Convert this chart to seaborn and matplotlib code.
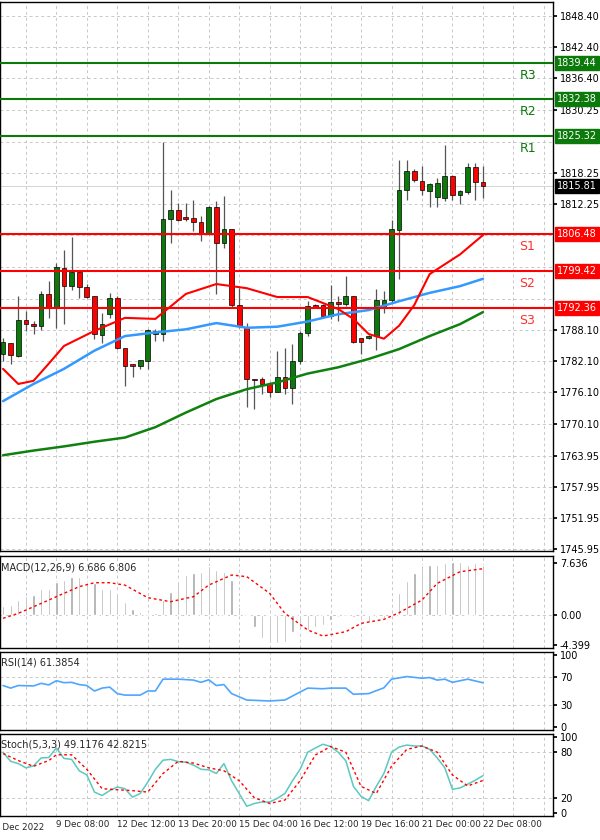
import numpy as np
import pandas as pd
import matplotlib
matplotlib.use("Agg")
import matplotlib.pyplot as plt
import seaborn as sns

# ---- data ----
opens = [1783.55, 1785.53, 1783.11, 1789.93, 1789.30, 1788.85, 1794.91, 1792.36, 1800.02, 1796.51,
         1799.25, 1796.32, 1794.59, 1787.13, 1791.08, 1794.15, 1784.57, 1781.51, 1781.19, 1782.15,
         1787.26, 1787.26, 1809.47, 1811.19, 1809.72, 1809.60, 1808.83, 1806.72, 1811.70, 1804.81,
         1807.55, 1792.87, 1788.53, 1778.64, 1778.64, 1777.68, 1776.08, 1779.08, 1776.91, 1782.15,
         1787.57, 1792.87, 1792.87, 1790.76, 1793.51, 1793.00, 1794.59, 1786.49, 1786.49, 1786.94,
         1792.36, 1793.76, 1807.36, 1815.02, 1818.53, 1816.74, 1814.70, 1813.55, 1813.42, 1817.57,
         1814.06, 1814.57, 1819.30, 1816.60]
highs = [1786.62, 1785.53, 1794.59, 1791.72, 1789.81, 1795.55, 1797.47, 1800.98, 1803.53, 1805.90,
         1799.25, 1796.83, 1794.59, 1791.40, 1795.23, 1794.59, 1784.70, 1781.51, 1782.28, 1788.21,
         1788.21, 1824.27, 1815.02, 1812.47, 1812.47, 1813.10, 1809.91, 1811.83, 1812.79, 1813.74,
         1807.55, 1796.19, 1789.49, 1778.64, 1778.96, 1778.00, 1784.06, 1784.70, 1785.34, 1787.89,
         1793.64, 1793.00, 1793.00, 1796.70, 1794.59, 1798.42, 1794.59, 1786.62, 1787.13, 1795.87,
         1795.55, 1809.28, 1820.77, 1820.77, 1819.04, 1819.68, 1816.30, 1817.25, 1823.64, 1817.89,
         1815.02, 1820.13, 1820.13, 1819.49]
lows = [1782.15, 1781.51, 1782.79, 1787.89, 1787.26, 1788.02, 1790.45, 1788.53, 1789.17, 1795.68,
        1794.27, 1794.27, 1786.30, 1785.66, 1790.45, 1784.38, 1777.36, 1778.96, 1780.55, 1780.55,
        1785.98, 1785.98, 1804.81, 1809.08, 1808.96, 1807.04, 1805.13, 1806.40, 1794.91, 1803.85,
        1792.36, 1788.53, 1773.21, 1772.89, 1775.76, 1775.12, 1776.08, 1775.76, 1773.85, 1781.50,
        1786.94, 1792.36, 1790.45, 1790.13, 1789.81, 1792.68, 1785.66, 1783.42, 1786.30, 1784.19,
        1791.40, 1793.51, 1797.79, 1813.10, 1816.60, 1814.06, 1811.64, 1811.64, 1812.91, 1813.10,
        1812.27, 1814.19, 1813.10, 1813.42]
closes = [1785.85, 1783.30, 1789.93, 1789.17, 1788.85, 1794.91, 1792.36, 1800.15, 1796.51, 1799.25,
          1796.32, 1794.47, 1787.26, 1789.30, 1794.15, 1784.57, 1781.19, 1781.19, 1782.28, 1788.02,
          1787.89, 1809.47, 1811.19, 1809.28, 1809.47, 1808.76, 1806.72, 1811.70, 1804.81, 1807.55,
          1792.87, 1788.85, 1778.64, 1778.45, 1777.68, 1776.08, 1779.08, 1776.91, 1782.15, 1787.57,
          1792.68, 1792.49, 1790.76, 1793.51, 1793.00, 1794.59, 1785.85, 1785.85, 1786.94, 1793.76,
          1793.76, 1807.55, 1815.02, 1818.53, 1816.93, 1815.02, 1816.10, 1816.30, 1817.57, 1814.06,
          1814.70, 1819.30, 1816.60, 1815.66]

# moving averages, sampled at these bar indices
red_idx = [0, 2, 4, 6, 8, 12, 16, 20, 24, 28, 32, 36, 40, 44, 46, 48, 50, 52, 54, 56, 58, 60, 63]
ma_red = [1780.6, 1777.7, 1778.3, 1781.6, 1785.0, 1787.9, 1790.4, 1790.2, 1795.0, 1796.9, 1796.1, 1794.4,
          1794.4, 1792.1, 1790.2, 1787.3, 1786.4, 1788.9, 1792.9, 1798.8, 1800.7, 1802.6, 1806.3]
ma_idx = [0, 4, 8, 12, 16, 20, 24, 28, 32, 36, 40, 44, 48, 52, 56, 60, 63]
ma_blue = [1774.4, 1777.7, 1780.6, 1784.1, 1786.9, 1787.6, 1788.2, 1789.4, 1788.5, 1788.7, 1789.7, 1791.1,
           1791.9, 1793.6, 1795.2, 1796.5, 1797.9]
ma_green = [1764.0, 1764.9, 1765.7, 1766.6, 1767.4, 1769.4, 1772.2, 1774.8, 1776.7, 1778.0, 1779.7, 1780.9,
            1782.5, 1784.4, 1786.9, 1789.2, 1791.5]

levels = {"R3": 1839.44, "R2": 1832.38, "R1": 1825.32, "S1": 1806.48, "S2": 1799.42, "S3": 1792.36}
last_price = 1815.81
price_ticks = [1848.40, 1842.40, 1836.40, 1830.25, 1818.25, 1812.25,
               1788.10, 1782.10, 1776.10, 1770.10, 1763.95, 1757.95, 1751.95, 1745.95]
hidden_ticks = [1824.25, 1806.25, 1800.25, 1794.10]  # gridlines under the level boxes

macd_hist = [1.32, 1.47, 2.2, 2.8, 2.94, 3.77, 3.9, 4.8, 5.15, 5.54, 5.54, 4.9, 4.66, 3.9, 3.9, 3.19,
             1.96, 0.83, 0.5, 0.25, 0.35, 2.2, 3.43, 5.0, 5.88, 6.23, 6.37, 7.2, 6.6, 6.37, 5.15, 1.23,
             -0.15, -1.72, -3.43, -4.17, -4.17, -3.92, -2.45, -2.2, -2.2, -1.72, -1.47, -0.74, -0.25, 0.0,
             -0.25, -0.74, -0.98, -0.25, -0.49, 0.0, 3.19, 5.05, 6.23, 7.35, 7.35, 7.35, 7.6, 7.84, 7.84,
             7.35, 7.6, 7.35]
sig_idx = [0, 2, 5, 7, 10, 12, 14, 16, 19, 22, 25, 27, 30, 32, 35, 37, 40, 42, 45, 47, 50, 52, 55, 57, 60, 63]
sig_val = [-0.49, 0.25, 1.7, 2.7, 4.17, 4.75, 4.75, 4.4, 2.55, 1.96, 2.7, 4.4, 5.88, 5.64, 3.19, 0.25,
           -2.2, -3.09, -2.45, -1.23, -0.64, 0.34, 2.2, 4.66, 6.37, 6.81]

rsi_idx = [0, 1, 2, 4, 5, 6, 7, 8, 9, 10, 11, 12, 13, 14, 15, 16, 18, 19, 20, 21, 23, 25, 26, 27, 28, 29,
           30, 32, 35, 37, 39, 40, 42, 43, 45, 46, 48, 50, 51, 53, 55, 56, 57, 58, 59, 60, 61, 63]
rsi_val = [57.6, 54, 57.6, 57, 60.6, 58.4, 64.2, 61.5, 62, 58.9, 57.6, 50, 54, 55.4, 46.4, 44.3, 44.3, 50,
           50, 66.4, 66.4, 65.1, 62, 65.5, 57.6, 58.9, 46.4, 37.5, 36.2, 37.5, 48.6, 54, 53.1, 54, 54,
           45.5, 46.4, 54.4, 66.4, 70, 67.7, 68.6, 65.1, 66.4, 62, 64.2, 66.4, 61.4]

stoch_k = [80, 68, 65, 59.4, 62, 72.5, 73, 85.6, 71.8, 70.6, 55.6, 50, 27.5, 23, 29.4, 34.2, 32, 20.8,
           25.6, 40.6, 57.5, 69.5, 70.6, 67.6, 66.9, 63, 57.5, 56.8, 52, 65, 42.5, 25.6, 8.8, 12.5, 14.4,
           14.4, 19.2, 25.6, 42.5, 57.5, 80, 85.6, 90.5, 87.5, 80, 68.7, 35, 21.9, 16.2, 35, 52, 80, 86.8,
           89.4, 88.2, 88.2, 83.7, 72.5, 59.4, 31.2, 33, 37.9, 43.1, 49.1]
stoch_d_idx = [0, 2, 4, 6, 7, 9, 11, 13, 15, 17, 19, 21, 23, 25, 27, 29, 31, 33, 35, 37, 39, 41, 43, 45,
               47, 49, 51, 53, 55, 57, 59, 61, 63]
stoch_d = [78.3, 69, 61.5, 69, 76.6, 76.6, 57.5, 32, 30.6, 29.4, 27.5, 52, 68, 65.7, 59.4, 55.6, 42.5,
           20, 12.5, 17, 42.5, 76.3, 87.5, 80, 35, 25.6, 61.5, 83.7, 88.2, 80, 50, 35.6, 42.8]

date_idx = [7, 15, 23, 31, 39, 47, 55, 63]
date_labels = ["9 Dec 08:00", "12 Dec 12:00", "13 Dec 20:00", "15 Dec 04:00", "16 Dec 12:00",
               "19 Dec 16:00", "21 Dec 00:00", "22 Dec 08:00"]

# ---- style ----
sns.set_theme(style="white")
plt.rcParams['font.family'] = 'DejaVu Sans'
GREEN = '#0b7a0b'
RED = '#ff0000'
GRID = dict(color='#c8c8c8', lw=0.7, ls=(0, (3, 3)))
FS = 7
XMIN, XMAX = -0.4, 72.2

fig = plt.figure(figsize=(6, 8.4), dpi=100)
W = 553 / 600
ax = fig.add_axes([0, 1 - 551 / 840, W, 549 / 840])
ax_macd = fig.add_axes([0, 1 - 648 / 840, W, 92 / 840])
ax_rsi = fig.add_axes([0, 1 - 730 / 840, W, 78 / 840])
ax_st = fig.add_axes([0, 1 - 816 / 840, W, 82 / 840])

for a in (ax, ax_macd, ax_rsi, ax_st):
    a.set_xlim(XMIN, XMAX)
    a.yaxis.tick_right()
    a.tick_params(axis='y', labelsize=FS, length=3, pad=2, colors='black', direction='out', right=True)
    a.tick_params(axis='x', length=0, labelbottom=False)
    for i in range(3, 72, 4):
        a.axvline(i, zorder=0, **GRID)
    for s in a.spines.values():
        s.set_color('black')
        s.set_linewidth(1.0)

# ---- main price panel ----
ax.set_ylim(1745.6, 1851.1)
ax.set_yticks(price_ticks)
ax.set_yticklabels([f"{t:.2f}" for t in price_ticks])
for t in price_ticks + hidden_ticks:
    ax.axhline(t, zorder=0, **GRID)

x = np.arange(len(opens))
o, h, l, c = map(np.array, (opens, highs, lows, closes))
up = c >= o
ax.vlines(x, l, h, color='#555555', lw=0.9, zorder=2)
body_lo = np.minimum(o, c)
body_h = np.maximum(np.abs(c - o), 0.25)
ax.bar(x, body_h, bottom=body_lo, width=0.62, color=np.where(up, GREEN, RED),
       edgecolor='black', lw=0.5, zorder=3)

ma = pd.DataFrame({'i': ma_idx, 'blue': ma_blue, 'green': ma_green})
red_ma = pd.DataFrame({'i': red_idx, 'red': ma_red})
sns.lineplot(data=ma, x='i', y='green', ax=ax, color='#108010', lw=1.8, zorder=4)
sns.lineplot(data=ma, x='i', y='blue', ax=ax, color='#3399ff', lw=1.8, zorder=4)
sns.lineplot(data=red_ma, x='i', y='red', ax=ax, color=RED, lw=1.5, zorder=4)
ax.set_xlabel('')
ax.set_ylabel('')

for name, v in levels.items():
    col = GREEN if name.startswith('R') else RED
    ax.axhline(v, color=col, lw=1.5, zorder=5)
    ax.text(67.8, v - 2.4, name, color=col if name.startswith('R') else '#ff3030', fontsize=9,
            va='center', ha='left')
    ax.text(1.008, v, f"{v:.2f}", transform=ax.get_yaxis_transform(), fontsize=FS, color='white',
            va='center', ha='left', zorder=6,
            bbox=dict(boxstyle='square,pad=0.2', fc=col, ec=col))
ax.text(1.008, last_price, f"{last_price:.2f}", transform=ax.get_yaxis_transform(), fontsize=FS,
        color='white', va='center', ha='left', zorder=6,
        bbox=dict(boxstyle='square,pad=0.2', fc='black', ec='black'))
ax.axhline(last_price, color='#cccccc', lw=0.6, zorder=0)

# ---- MACD ----
ax_macd.set_ylim(-4.85, 8.68)
ax_macd.set_yticks([7.636, 0, -4.399])
ax_macd.set_yticklabels(['7.636', '0.00', '-4.399'])
ax_macd.axhline(0, zorder=0, **GRID)
ax_macd.bar(x, macd_hist, width=0.3, color='#a8a8a8', zorder=2)
sig = pd.DataFrame({'i': sig_idx, 'v': sig_val})
sns.lineplot(data=sig, x='i', y='v', ax=ax_macd, color=RED, lw=1.0, ls=(0, (2, 2)), zorder=3)
ax_macd.text(0.002, 0.93, 'MACD(12,26,9) 6.686 6.806', transform=ax_macd.transAxes, fontsize=FS, va='top')

# ---- RSI ----
ax_rsi.set_ylim(-4, 104)
ax_rsi.set_yticks([100, 70, 30, 0])
for t in (70, 30):
    ax_rsi.axhline(t, zorder=0, **GRID)
rsi = pd.DataFrame({'i': rsi_idx, 'v': rsi_val})
sns.lineplot(data=rsi, x='i', y='v', ax=ax_rsi, color='#4da6ff', lw=1.2)
ax_rsi.text(0.002, 0.93, 'RSI(14) 61.3854', transform=ax_rsi.transAxes, fontsize=FS, va='top')

# ---- Stochastic ----
ax_st.set_ylim(-4, 104)
ax_st.set_yticks([100, 80, 20, 0])
for t in (80, 20):
    ax_st.axhline(t, zorder=0, **GRID)
stk = pd.DataFrame({'i': x, 'v': stoch_k})
std = pd.DataFrame({'i': stoch_d_idx, 'v': stoch_d})
sns.lineplot(data=stk, x='i', y='v', ax=ax_st, color='#5cc8c0', lw=1.1)
sns.lineplot(data=std, x='i', y='v', ax=ax_st, color=RED, lw=1.0, ls=(0, (2, 2)))
ax_st.text(0.002, 0.93, 'Stoch(5,3,3) 49.1176 42.8215', transform=ax_st.transAxes, fontsize=FS, va='top')

for a in (ax_macd, ax_rsi, ax_st):
    a.set_xlabel('')
    a.set_ylabel('')

ax_st.set_xticks(date_idx)
ax_st.set_xticklabels(date_labels, ha='left')
ax_st.tick_params(axis='x', labelbottom=True, labelsize=6.3, pad=3)
ax_st.text(-1.2, -0.08, '8 Dec 2022', transform=ax_st.get_xaxis_transform(), fontsize=6.3,
           ha='left', va='top', clip_on=False)

fig.savefig('out.png', dpi=100)
